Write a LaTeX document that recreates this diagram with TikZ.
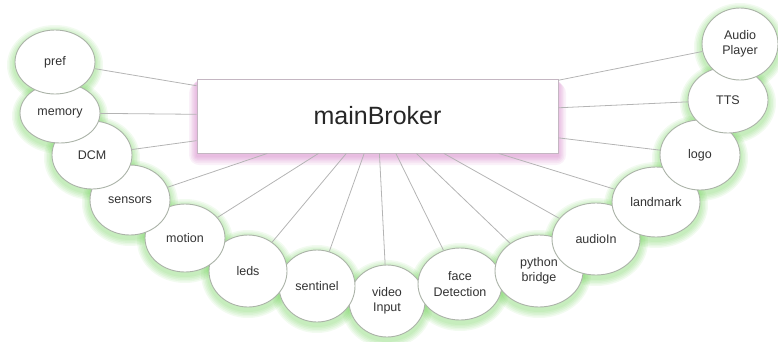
\documentclass[tikz,border=0pt]{standalone}
\usepackage{fontspec}
\setmainfont{Liberation Sans}
\usetikzlibrary{shapes.geometric,backgrounds}

\definecolor{glowgreen}{HTML}{55C83A}
\definecolor{glowpink}{HTML}{C860B8}
\definecolor{rimgray}{HTML}{ABB3A8}
\definecolor{boxrim}{HTML}{C4B6C2}
\definecolor{wiregray}{HTML}{B4B4B4}
\definecolor{inkgray}{HTML}{333333}

\tikzset{
  bubble/.style={ellipse, draw=rimgray, line width=0.9pt, fill=white,
    inner sep=0pt, align=center, text=inkgray,
    font=\fontsize{12.5}{15.5}\selectfont},
  brokerbox/.style={rectangle, draw=boxrim, line width=0.8pt, fill=white,
    inner sep=0pt, text=black!85, font=\fontsize{25}{30}\selectfont},
  wire/.style={draw=wiregray, line width=0.8pt}
}

% soft green halo under an ellipse: centre x, y, radii rx, ry
\newcommand\halo[4]{%
  \foreach \k in {8,6.5,5,3.5,2}{%
    \fill[glowgreen, opacity=0.08] (#1,#2+3) ellipse [x radius=#3pt+\k pt, y radius=#4pt+\k pt];}}

% ellipse node: name, x, y, rx, ry, label
\newcommand\bub[6]{%
  \node[bubble, minimum width=#4pt*2, minimum height=#5pt*2] (#1) at (#2,#3) {#6};}

\begin{document}
\begin{tikzpicture}[x=1pt, y=-1pt]
\useasboundingbox (0,0) rectangle (778,341);

\begin{scope}[on background layer]
  % pink halo of the broker box
  \foreach \k in {10,8,6,4.5,3,1.5}{%
    \fill[glowpink, opacity=0.085, rounded corners=\k pt]
      (197-\k*0.8, 80+\k*0.3) rectangle (558+\k*0.8, 156+\k*0.9);}
  \halo{387}{301}{38}{36}
  \halo{317}{286}{38}{36}
  \halo{460}{284}{42}{36}
  \halo{248}{271}{39}{36}
  \halo{539}{271}{44}{36}
  \halo{185}{238}{40}{34}
  \halo{596}{239}{44}{36}
  \halo{130}{200}{40}{35}
  \halo{656}{202}{44}{35}
  \halo{92}{155}{40}{34}
  \halo{700}{155}{40}{35}
  \halo{60}{113}{40}{30}
  \halo{728}{100}{40}{33}
  \halo{55}{62}{40}{32}
  \halo{740}{44}{38}{36}
\end{scope}

\node[brokerbox, minimum width=361pt, minimum height=74pt] (broker) at (377.5,116) {mainBroker};

% bubbles, drawn from the bottom of the arc outwards
\bub{video}{387}{301}{38}{36}{video\\Input}
\bub{sentinel}{317}{286}{38}{36}{sentinel}
\bub{face}{460}{284}{42}{36}{face\\Detection}
\bub{leds}{248}{271}{39}{36}{leds}
\bub{python}{539}{271}{44}{36}{python\\bridge}
\bub{motion}{185}{238}{40}{34}{motion}
\bub{audioIn}{596}{239}{44}{36}{audioIn}
\bub{sensors}{130}{200}{40}{35}{sensors}
\bub{landmark}{656}{202}{44}{35}{landmark}
\bub{DCM}{92}{155}{40}{34}{DCM}
\bub{logo}{700}{155}{40}{35}{logo}
\bub{memory}{60}{113}{40}{30}{memory}
\bub{TTS}{728}{100}{40}{33}{TTS}
\bub{pref}{55}{62}{40}{32}{pref}
\bub{audioPlayer}{740}{44}{38}{36}{Audio\\Player}

% spokes from every bubble to the broker
\foreach \n in {pref,memory,DCM,sensors,motion,leds,sentinel,video,face,python,audioIn,landmark,logo,TTS,audioPlayer}
  \draw[wire] (\n) -- (broker);

\end{tikzpicture}
\end{document}
